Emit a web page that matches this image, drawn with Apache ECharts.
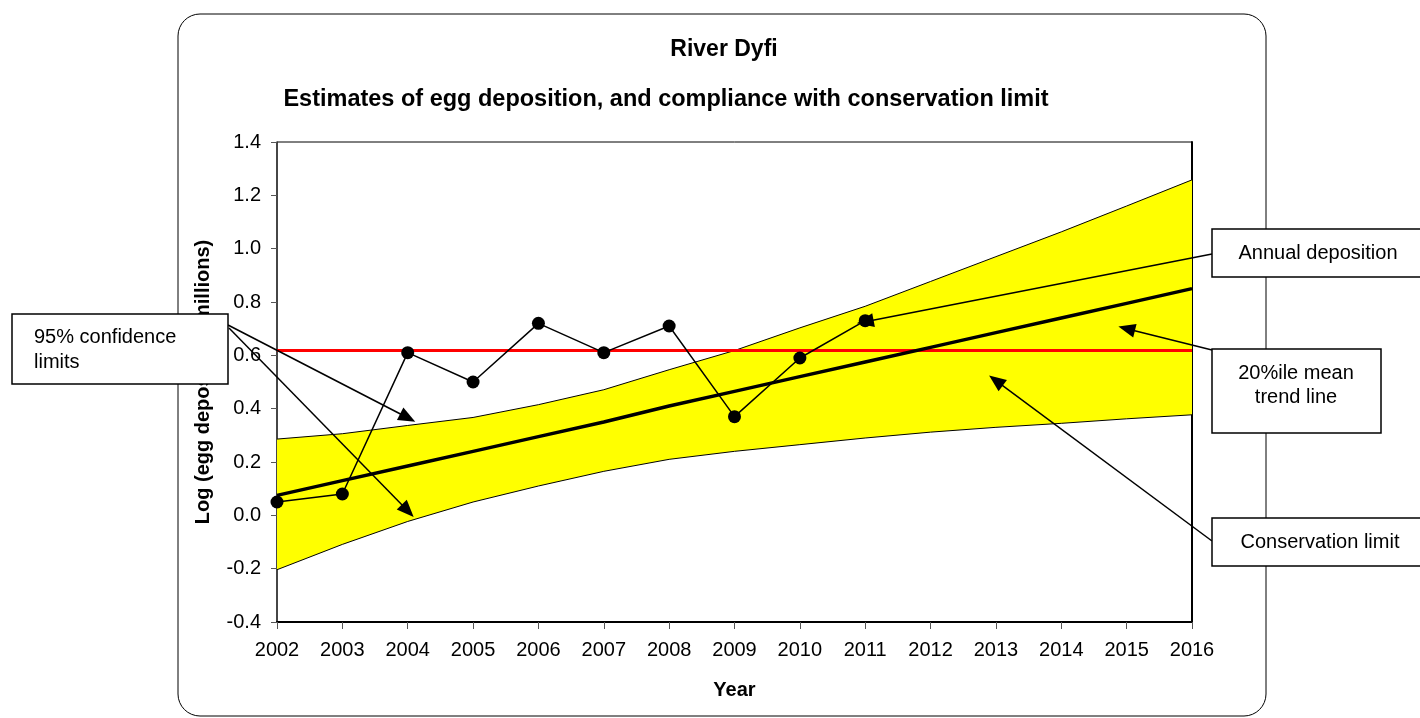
<!DOCTYPE html>
<html>
<head>
<meta charset="utf-8">
<script src="https://cdn.jsdelivr.net/npm/echarts@6/dist/echarts.min.js"></script>
<style>
  html, body { margin: 0; padding: 0; background: #fff; }
  #chart { width: 1420px; height: 718px; }
</style>
</head>
<body>
<div id="chart"></div>
<script>
const years = ['2002','2003','2004','2005','2006','2007','2008','2009','2010','2011','2012','2013','2014','2015','2016'];
const annualDeposition = [0.05, 0.08, 0.61, 0.50, 0.72, 0.61, 0.71, 0.37, 0.59, 0.73];
const trendLine = [0.075, 0.13, 0.185, 0.24, 0.295, 0.35, 0.41, 0.465, 0.52, 0.575, 0.63, 0.685, 0.74, 0.795, 0.85];
const upperLimit = [0.286, 0.306, 0.337, 0.367, 0.415, 0.471, 0.546, 0.618, 0.703, 0.784, 0.877, 0.970, 1.063, 1.160, 1.258];
const lowerLimit = [-0.204, -0.109, -0.023, 0.05, 0.11, 0.165, 0.21, 0.24, 0.265, 0.29, 0.312, 0.33, 0.345, 0.362, 0.377];
const conservationLimit = 0.62;
const yTicks = { min: -0.4, max: 1.4, step: 0.2 };

// where each callout arrow points, in data units [category index, value]
const arrowTips = {
    ciUpper: [1.74, 0.366],
    ciLower: [2.11, 0.017],
    annual: [9.32, 0.726],
    trend: [12.62, 0.70],
    conservation: [11.14, 0.505]
};

const font = 'Arial, "Liberation Sans", sans-serif';
const chart = echarts.init(document.getElementById('chart'));

function arrow(fromX, fromY, tip) {
    return [{x: fromX, y: fromY}, {coord: tip}];
}

function box(x, y, w, h) {
    return {type: 'rect', z: 100, shape: {x: x, y: y, width: w, height: h},
        style: {fill: '#fff', stroke: '#000', lineWidth: 1.5}};
}
function label(x, y, text, align) {
    return {type: 'text', z: 101, x: x, y: y,
        style: {text: text, font: '20px ' + font, fill: '#000', align: align || 'center', verticalAlign: 'middle', lineHeight: 24}};
}

const option = {
    animation: false,
    grid: {left: 277, right: 228, top: 142, bottom: 96, show: true, borderColor: '#000', borderWidth: 1},
    xAxis: {
        type: 'category', data: years, boundaryGap: false,
        name: 'Year', nameLocation: 'middle', nameGap: 58,
        nameTextStyle: {fontFamily: font, fontSize: 20, fontWeight: 'bold', color: '#000'},
        axisLine: {onZero: false, lineStyle: {color: '#000', width: 2}},
        axisTick: {length: 7, lineStyle: {color: '#555'}, interval: 0},
        axisLabel: {interval: 0, margin: 18, fontFamily: font, fontSize: 20, color: '#000'},
        splitLine: {show: false}
    },
    yAxis: [{
        type: 'value', min: yTicks.min, max: yTicks.max, interval: yTicks.step,
        name: 'Log (egg deposition, millions)', nameLocation: 'middle', nameGap: 64,
        nameTextStyle: {fontFamily: font, fontSize: 20, fontWeight: 'bold', color: '#000'},
        axisLine: {show: true, onZero: false, lineStyle: {color: '#333', width: 1.5}},
        axisTick: {show: true, length: 6, lineStyle: {color: '#555'}},
        axisLabel: {margin: 16, fontFamily: font, fontSize: 20, color: '#000',
            formatter: v => v.toFixed(1)},
        splitLine: {show: false}
    }, {
        // right frame edge of the plot, drawn heavier like the reference
        type: 'value', min: yTicks.min, max: yTicks.max, position: 'right',
        axisLine: {show: true, onZero: false, lineStyle: {color: '#000', width: 2}},
        axisTick: {show: false}, axisLabel: {show: false}, splitLine: {show: false}
    }],
    graphic: [
        {type: 'rect', z: 0, shape: {x: 178, y: 14, width: 1088, height: 702, r: 22},
            style: {fill: 'none', stroke: '#000', lineWidth: 1}},
        {type: 'text', z: 1, x: 724, y: 50,
            style: {text: 'River Dyfi', font: 'bold 23px ' + font, fill: '#000', align: 'center', verticalAlign: 'middle'}},
        {type: 'text', z: 1, x: 666, y: 100,
            style: {text: 'Estimates of egg deposition, and compliance with conservation limit', font: 'bold 23.5px ' + font, fill: '#000', align: 'center', verticalAlign: 'middle'}},
        box(12, 314, 216, 70),
        label(34, 337, '95% confidence', 'left'),
        label(34, 362, 'limits', 'left'),
        box(1212, 229, 230, 48),
        label(1318, 253, 'Annual deposition'),
        box(1212, 349, 169, 84),
        label(1296, 373, '20%ile mean'),
        label(1296, 397, 'trend line'),
        box(1212, 518, 230, 48),
        label(1320, 542, 'Conservation limit')
    ],
    series: [
        {
            name: 'lower', type: 'line', data: lowerLimit, stack: 'ci', stackStrategy: 'all',
            symbol: 'none', lineStyle: {color: '#000', width: 1}, z: 2
        },
        {
            name: 'upper', type: 'line', data: upperLimit.map((u, i) => u - lowerLimit[i]),
            stack: 'ci', stackStrategy: 'all',
            symbol: 'none', lineStyle: {color: '#000', width: 1},
            areaStyle: {color: '#ffff00', opacity: 1}, z: 2
        },
        {
            name: 'trend', type: 'line', data: trendLine, symbol: 'none',
            lineStyle: {color: '#000', width: 3.5}, z: 3,
            markLine: {
                silent: true, z: 3, symbol: 'none', label: {show: false},
                lineStyle: {color: '#ff0000', width: 3, type: 'solid'},
                data: [{yAxis: conservationLimit}]
            }
        },
        {
            name: 'annual', type: 'line', data: annualDeposition, clip: false,
            symbol: 'circle', symbolSize: 13, itemStyle: {color: '#000'},
            lineStyle: {color: '#000', width: 1.5}, z: 4,
            markLine: {
                silent: true, z: 50, symbol: ['none', 'triangle'], symbolSize: [14, 17],
                label: {show: false},
                lineStyle: {color: '#000', width: 1.5, type: 'solid'},
                data: [
                    arrow(228, 325, arrowTips.ciUpper),
                    arrow(229, 328, arrowTips.ciLower),
                    arrow(1212, 254, arrowTips.annual),
                    arrow(1212, 350, arrowTips.trend),
                    arrow(1212, 541, arrowTips.conservation)
                ]
            }
        }
    ]
};

chart.setOption(option);
</script>
</body>
</html>
